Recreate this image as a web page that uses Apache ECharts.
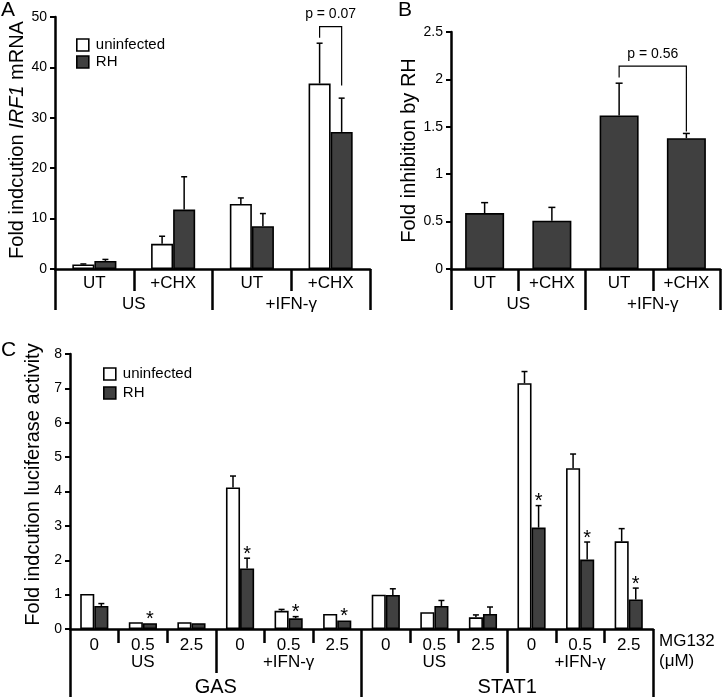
<!DOCTYPE html>
<html><head><meta charset="utf-8">
<script src="https://cdn.jsdelivr.net/npm/echarts@6/dist/echarts.min.js"></script>
<style>html,body{margin:0;padding:0;background:#fff}#c{width:722px;height:697px}</style>
</head><body><div id="c"></div>
<script>
// ---------- DATA ----------
const catsAB = ['UT', '+CHX', 'UT', '+CHX'];
const groupsAB = ['US', '+IFN-γ'];
const yTicksA = [0, 10, 20, 30, 40, 50];
const aUninf = [0.9, 5.0, 12.9, 36.8];
const aUninfErr = [0.1, 1.5, 1.2, 8.0];
const aRH = [1.6, 11.8, 8.5, 27.2];
const aRHErr = [0.3, 6.5, 2.5, 6.7];
const pA = { cats: [3, 3], sides: [-1, 1], top: 48.1, legs: [45.9, 36.4], text: 'p = 0.07' };

const yTicksB = [0, 0.5, 1, 1.5, 2, 2.5];
const bRatio = [0.59, 0.51, 1.62, 1.38];
const bErr = [0.11, 0.14, 0.34, 0.05];
const pB = { cats: [2, 3], sides: [0, 0], top: 2.14, legs: [2.02, 1.45], text: 'p = 0.56' };

const doseCats = ['0', '0.5', '2.5', '0', '0.5', '2.5', '0', '0.5', '2.5', '0', '0.5', '2.5'];
const treatCats = ['US', '+IFN-γ', 'US', '+IFN-γ'];
const reporterCats = ['GAS', 'STAT1'];
const yTicksC = [0, 1, 2, 3, 4, 5, 6, 7, 8];
const cUninf = [1.02, 0.2, 0.2, 4.12, 0.53, 0.44, 1.0, 0.49, 0.34, 7.15, 4.68, 2.55];
const cUninfErr = [0, 0, 0, 0.33, 0.04, 0, 0, 0, 0.07, 0.34, 0.41, 0.37];
const cRH = [0.67, 0.17, 0.17, 1.76, 0.31, 0.25, 0.99, 0.67, 0.44, 2.95, 2.02, 0.86];
const cRHErr = [0.07, 0, 0, 0.30, 0.05, 0, 0.18, 0.16, 0.20, 0.64, 0.51, 0.33];
const cStars = [0, 1, 0, 1, 1, 1, 0, 0, 0, 1, 1, 1];

// ---------- STYLE ----------
const FONT = '"Liberation Sans", Arial, sans-serif';
const INK = '#000';
const DARK = '#404040';
const uninfStyle = { color: '#fff', borderColor: INK, borderWidth: 1.6 };
const rhStyle = { color: DARK, borderColor: INK, borderWidth: 1.6 };

function yAxis(grid, ticks, name, gap, pad, rich) {
  return {
    type: 'value', gridIndex: grid, min: ticks[0], max: ticks[ticks.length - 1],
    interval: ticks[1] - ticks[0],
    axisLine: { show: true, lineStyle: { color: INK, width: 2.5 } },
    axisTick: { show: true, length: 5, lineStyle: { color: INK, width: 2 } },
    axisLabel: { color: INK, fontSize: 14, fontFamily: FONT, margin: 8 },
    splitLine: { show: false },
    name: name, nameLocation: 'middle', nameRotate: 90, nameGap: gap,
    nameTextStyle: { color: INK, fontSize: 20, fontFamily: FONT, padding: pad, rich: rich || {} }
  };
}
function xAxis(grid, data, offset, tickLen, margin, fontSize, showLine, extra) {
  return Object.assign({
    type: 'category', gridIndex: grid, data: data, position: 'bottom', offset: offset,
    axisLine: { show: showLine, onZero: false, lineStyle: { color: INK, width: 2.5 } },
    axisTick: { show: true, interval: 0, length: tickLen, lineStyle: { color: INK, width: 2.5 } },
    axisLabel: { interval: 0, color: INK, fontSize: fontSize, fontFamily: FONT, margin: margin },
    splitLine: { show: false }
  }, extra || {});
}
function errSeries(xi, yi, vals, errs, side, frac, stars, cap) {
  return {
    type: 'custom', xAxisIndex: xi, yAxisIndex: yi, z: 5, silent: true,
    data: vals.map((v, i) => [i, v, errs[i], stars ? stars[i] : 0]),
    renderItem: function (params, api) {
      const i = api.value(0), v = api.value(1), e = api.value(2), s = api.value(3);
      const band = api.size([1, 0])[0];
      const dx = side * band * frac / 2;
      const b = api.coord([i, v]);
      const t = api.coord([i, v + e]);
      const x = b[0] + dx;
      const ch = [];
      if (e > 0) {
        ch.push({ type: 'line', shape: { x1: x, y1: b[1], x2: x, y2: t[1] }, style: { stroke: INK, lineWidth: 1.5 } });
        ch.push({ type: 'line', shape: { x1: x - cap / 2, y1: t[1], x2: x + cap / 2, y2: t[1] }, style: { stroke: INK, lineWidth: 1.5 } });
      }
      if (s) {
        ch.push({ type: 'text', x: x, y: t[1] - 4, style: { text: '*', fill: INK, font: '20px ' + FONT, align: 'center', verticalAlign: 'middle' } });
      }
      return { type: 'group', children: ch };
    }
  };
}
function bracketSeries(xi, yi, p, frac) {
  return {
    type: 'custom', xAxisIndex: xi, yAxisIndex: yi, z: 5, silent: true,
    data: [[p.cats[0], p.top, p.cats[1], p.legs[0], p.legs[1]]],
    renderItem: function (params, api) {
      const band = api.size([1, 0])[0];
      const xl = api.coord([api.value(0), 0])[0] + p.sides[0] * band * frac / 2;
      const xr = api.coord([api.value(2), 0])[0] + p.sides[1] * band * frac / 2;
      const yt = api.coord([0, api.value(1)])[1];
      const yl = api.coord([0, api.value(3)])[1];
      const yr = api.coord([0, api.value(4)])[1];
      return { type: 'group', children: [
        { type: 'polyline', shape: { points: [[xl, yl], [xl, yt], [xr, yt], [xr, yr]] }, style: { stroke: INK, lineWidth: 1.2, fill: null } },
        { type: 'text', x: (xl + xr) / 2, y: yt - 12, style: { text: p.text, fill: INK, font: '14px ' + FONT, align: 'center', verticalAlign: 'middle' } }
      ] };
    }
  };
}
function legend(left, top, gap) {
  return {
    left: left, top: top, orient: 'vertical', padding: 0, itemWidth: 12, itemHeight: 12, itemGap: gap,
    icon: 'rect', selectedMode: false,
    textStyle: { color: INK, fontSize: 15, fontFamily: FONT, lineHeight: 16, padding: [0, 0, 0, 2] },
    data: [{ name: 'uninfected', itemStyle: uninfStyle }, { name: 'RH', itemStyle: rhStyle }]
  };
}

const option = {
  animation: false,
  backgroundColor: '#fff',
  title: [
    { text: 'A', left: 1, top: 0, padding: 0, textStyle: { fontSize: 21, fontWeight: 'normal', color: INK, fontFamily: FONT } },
    { text: 'B', left: 398, top: 0, padding: 0, textStyle: { fontSize: 21, fontWeight: 'normal', color: INK, fontFamily: FONT } },
    { text: 'C', left: 1, top: 340, padding: 0, textStyle: { fontSize: 21, fontWeight: 'normal', color: INK, fontFamily: FONT } }
  ],
  legend: [legend(76, 37, 1), legend(103, 366, 3)],
  grid: [
    { left: 55, top: 17, width: 315, height: 252 },
    { left: 451, top: 32, width: 269, height: 237 },
    { left: 70, top: 354, width: 583, height: 275 }
  ],
  xAxis: [
    xAxis(0, catsAB, 0, 22, 6, 17, true),
    xAxis(0, groupsAB, 22, 19, 5, 17, false),
    xAxis(1, catsAB, 0, 22, 6, 17, true),
    xAxis(1, groupsAB, 22, 19, 5, 17, false),
    xAxis(2, doseCats, 0, 14, 8, 17, true, {
      name: 'MG132\n(μM)', nameLocation: 'end', nameGap: 6,
      nameTextStyle: { color: INK, fontSize: 17, fontFamily: FONT, align: 'left', verticalAlign: 'top', lineHeight: 20, padding: [2, 0, 0, 0] }
    }),
    xAxis(2, treatCats, 14, 30, 11, 17, false),
    xAxis(2, reporterCats, 44, 24, 4, 20, false)
  ],
  yAxis: [
    yAxis(0, yTicksA, 'Fold indcution {i|IRF1} mRNA', 25, [0, 0, 0, 6], { i: { fontStyle: 'italic', fontSize: 20, fontFamily: FONT, color: INK } }),
    yAxis(1, yTicksB, 'Fold inhibition by RH', 32, [0, 0, 0, 0]),
    yAxis(2, yTicksC, 'Fold indcution luciferase activity', 19, [0, 0, 0, 14])
  ],
  series: [
    { type: 'bar', name: 'uninfected', xAxisIndex: 0, yAxisIndex: 0, data: aUninf, barWidth: '28%', barGap: '0%', itemStyle: uninfStyle },
    { type: 'bar', name: 'RH', xAxisIndex: 0, yAxisIndex: 0, data: aRH, barWidth: '28%', barGap: '0%', itemStyle: rhStyle },
    errSeries(0, 0, aUninf, aUninfErr, -1, 0.28, null, 6),
    errSeries(0, 0, aRH, aRHErr, 1, 0.28, null, 6),
    bracketSeries(0, 0, pA, 0.28),
    { type: 'bar', name: 'Fold inhibition by RH', xAxisIndex: 2, yAxisIndex: 1, data: bRatio, barWidth: '58%', itemStyle: rhStyle },
    errSeries(2, 1, bRatio, bErr, 0, 0.58, null, 7),
    bracketSeries(2, 1, pB, 0.58),
    { type: 'bar', name: 'uninfected', xAxisIndex: 4, yAxisIndex: 2, data: cUninf, barWidth: '29%', barGap: '0%', itemStyle: uninfStyle },
    { type: 'bar', name: 'RH', xAxisIndex: 4, yAxisIndex: 2, data: cRH, barWidth: '29%', barGap: '0%', itemStyle: rhStyle },
    errSeries(4, 2, cUninf, cUninfErr, -1, 0.29, null, 6),
    errSeries(4, 2, cRH, cRHErr, 1, 0.29, cStars, 6)
  ]
};
const chart = echarts.init(document.getElementById('c'), null, { renderer: 'canvas' });
chart.setOption(option);
</script></body></html>
